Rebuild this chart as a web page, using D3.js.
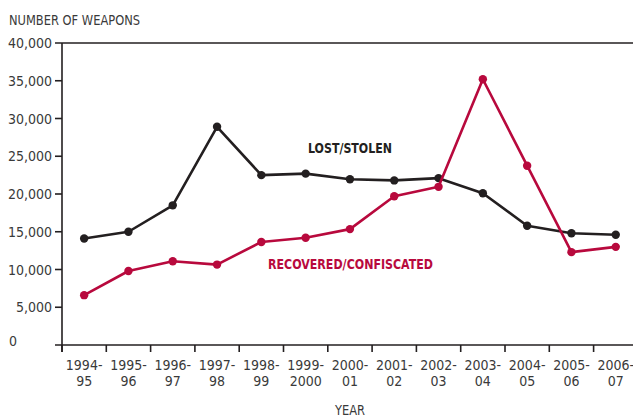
<!DOCTYPE html>
<html><head><meta charset="utf-8">
<script src="https://cdn.jsdelivr.net/npm/d3@7"></script>
<style>
html,body{margin:0;padding:0;background:#fff;}
svg text{font-family:"DejaVu Sans Condensed","Liberation Sans Narrow","DejaVu Sans",sans-serif;font-stretch:condensed;}
</style></head>
<body>
<svg id="chart" width="633" height="418"></svg>
<script>
const years = ["1994-95","1995-96","1996-97","1997-98","1998-99","1999-2000","2000-01","2001-02","2002-03","2003-04","2004-05","2005-06","2006-07"];
const lostStolen = [14100,15000,18500,28900,22500,22700,21950,21800,22100,20100,15800,14800,14600];
const recovered = [6600,9800,11100,10650,13650,14200,15350,19700,20950,35200,23750,12300,13000];
const yTicks = [0,5000,10000,15000,20000,25000,30000,35000,40000];

const svg = d3.select("#chart");
const x0 = 62, yBottom = 345, yTop = 43;
const bandW = 44.3;
const x = d3.scaleBand().domain(years).range([x0, x0 + bandW*years.length]).padding(0);
const y = d3.scaleLinear().domain([0,40000]).range([yBottom, yTop]);
const cx = d => x(d) + x.bandwidth()/2;

const axisColor = "#231f20";
const textColor = "#3a3a3a";
const red = "#b8093d";

svg.append("line").attr("x1",55).attr("x2",633).attr("y1",y(40000)).attr("y2",y(40000))
  .attr("stroke",axisColor).attr("stroke-width",1.6);
svg.append("line").attr("x1",x0).attr("x2",x0).attr("y1",y(40000)).attr("y2",yBottom+7)
  .attr("stroke",axisColor).attr("stroke-width",1.6);
svg.append("line").attr("x1",55).attr("x2",633).attr("y1",yBottom).attr("y2",yBottom)
  .attr("stroke",axisColor).attr("stroke-width",1.6);

const yg = svg.append("g");
yTicks.forEach(t=>{
  if(t>0 && t<40000){
    yg.append("line").attr("x1",55).attr("x2",x0).attr("y1",y(t)).attr("y2",y(t))
      .attr("stroke",axisColor).attr("stroke-width",1.6);
  }
  const lbl = yg.append("text").attr("font-size",14).attr("fill",textColor).text(d3.format(",")(t));
  if(t===0){
    lbl.attr("x",9).attr("y",y(t)-4).attr("dy","0.36em").attr("text-anchor","start");
  } else {
    lbl.attr("x",52).attr("y",y(t)).attr("dy","0.36em").attr("text-anchor","end");
  }
});

const xg = svg.append("g");
years.forEach((yr,i)=>{
  xg.append("line").attr("x1",x(yr)).attr("x2",x(yr)).attr("y1",yBottom).attr("y2",yBottom+7)
    .attr("stroke",axisColor).attr("stroke-width",1.6);
  const parts = yr.split("-");
  const t = xg.append("text").attr("text-anchor","middle").attr("font-size",14).attr("fill",textColor);
  t.append("tspan").attr("x",cx(yr)).attr("y",370).text(parts[0]+"-");
  t.append("tspan").attr("x",cx(yr)).attr("y",386).text(parts[1]);
});

const line = d3.line().x((d,i)=>cx(years[i])).y(d=>y(d));
function series(data,color){
  svg.append("path").datum(data).attr("d",line).attr("fill","none")
    .attr("stroke",color).attr("stroke-width",2.6).attr("stroke-linejoin","round");
  svg.append("g").selectAll("circle").data(data).join("circle")
    .attr("cx",(d,i)=>cx(years[i])).attr("cy",d=>y(d)).attr("r",4.2).attr("fill",color);
}
series(lostStolen, axisColor);
series(recovered, red);

svg.append("text").attr("x",9).attr("y",25).attr("font-size",14).attr("fill",textColor)
  .attr("textLength",131).attr("lengthAdjust","spacingAndGlyphs").text("NUMBER OF WEAPONS");
svg.append("text").attr("x",335).attr("y",415).attr("font-size",13.5).attr("fill",textColor)
  .attr("textLength",30).attr("lengthAdjust","spacingAndGlyphs").text("YEAR");
svg.append("text").attr("x",308).attr("y",153).attr("font-size",14).attr("font-weight","bold").attr("fill",axisColor)
  .attr("textLength",84).attr("lengthAdjust","spacingAndGlyphs").text("LOST/STOLEN");
svg.append("text").attr("x",268).attr("y",269).attr("font-size",14).attr("font-weight","bold").attr("fill",red)
  .attr("textLength",165).attr("lengthAdjust","spacingAndGlyphs").text("RECOVERED/CONFISCATED");
</script>
</body></html>
